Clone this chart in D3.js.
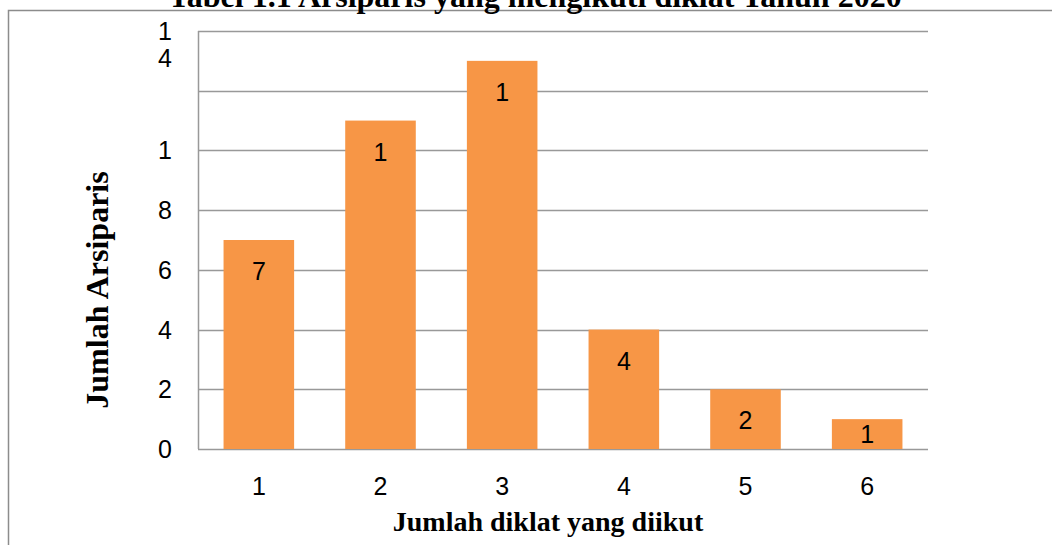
<!DOCTYPE html>
<html lang="id">
<head>
    <meta charset="UTF-8">
    <title>Arsiparis yang mengikuti diklat</title>
    <script src="https://d3js.org/d3.v7.min.js"></script>
    <style>
        body { margin: 0; background: #fff; }
        .grid line { stroke: #999; stroke-width: 1.5px; }
        .tick-label { font-family: "Liberation Sans", Arial, sans-serif; font-size: 25px; fill: #000; }
        .axis-title { font-family: "Liberation Serif", "Times New Roman", serif; font-weight: bold; fill: #000; }
    </style>
</head>
<body>
    <svg class="chart"></svg>
    <script>
        // data
        var categories = ["1", "2", "3", "4", "5", "6"];
        var values = [7, 11, 13, 4, 2, 1];
        // value labels as printed (cut to one character in the original)
        var valueLabels = ["7", "1", "1", "4", "2", "1"];
        var yTicks = [0, 2, 4, 6, 8, 10, 12, 14];
        // tick labels as printed (wrapped / cut)
        var yTickLabels = [["0"], ["2"], ["4"], ["6"], ["8"], ["1"], [], ["1", "4"]];

        var width = 1052, height = 545;
        var margin = { top: 31, right: 124, bottom: 96, left: 198 };

        var svg = d3.select('.chart')
                    .attr('width', width)
                    .attr('height', height);

        // frame (runs off the right/bottom edge)
        svg.append('rect')
           .attr('x', 8.5).attr('y', 10.5)
           .attr('width', 1100).attr('height', 600)
           .attr('fill', 'none')
           .attr('stroke', '#8c8c8c')
           .attr('stroke-width', 1.5);

        // title, mostly cut off at the top
        svg.append('text')
           .attr('class', 'axis-title')
           .attr('x', 535).attr('y', 7)
           .attr('text-anchor', 'middle')
           .style('font-size', '32px')
           .text('Tabel 1.1 Arsiparis yang mengikuti diklat Tahun 2020');

        var x = d3.scaleBand()
                  .domain(categories)
                  .range([margin.left, width - margin.right])
                  .paddingInner(0.42)
                  .paddingOuter(0.21);

        var y = d3.scaleLinear()
                  .domain([0, 14])
                  .range([height - margin.bottom, margin.top]);

        // horizontal gridlines
        svg.append('g').attr('class', 'grid')
           .selectAll('line')
           .data(yTicks)
           .join('line')
           .attr('x1', margin.left).attr('x2', width - margin.right)
           .attr('y1', d => Math.round(y(d)) + 0.5)
           .attr('y2', d => Math.round(y(d)) + 0.5);

        // left axis line
        svg.append('line')
           .attr('x1', margin.left + 0.5).attr('x2', margin.left + 0.5)
           .attr('y1', y(14)).attr('y2', y(0))
           .attr('stroke', '#999').attr('stroke-width', 1.5);

        // y tick labels
        var yl = svg.append('g')
                    .selectAll('text')
                    .data(yTicks)
                    .join('text')
                    .attr('class', 'tick-label')
                    .attr('text-anchor', 'end')
                    .attr('x', 172)
                    .attr('y', d => y(d) + 9);
        yl.each(function(d, i) {
            var t = d3.select(this);
            yTickLabels[i].forEach(function(s, j) {
                t.append('tspan').attr('x', 172).attr('dy', j === 0 ? 0 : 27).text(s);
            });
        });

        // bars
        svg.append('g')
           .selectAll('rect')
           .data(values)
           .join('rect')
           .attr('x', (d, i) => x(categories[i]))
           .attr('width', x.bandwidth())
           .attr('y', d => y(d))
           .attr('height', d => y(0) - y(d))
           .attr('fill', '#F79646');

        // value labels inside the bars
        svg.append('g')
           .selectAll('text')
           .data(values)
           .join('text')
           .attr('class', 'tick-label')
           .attr('text-anchor', 'middle')
           .attr('x', (d, i) => x(categories[i]) + x.bandwidth() / 2)
           .attr('y', d => Math.min(y(d) + 40, y(0) - 6))
           .text((d, i) => valueLabels[i]);

        // x tick labels
        svg.append('g')
           .selectAll('text')
           .data(categories)
           .join('text')
           .attr('class', 'tick-label')
           .attr('text-anchor', 'middle')
           .attr('x', d => x(d) + x.bandwidth() / 2)
           .attr('y', 495)
           .text(d => d);

        // axis titles
        svg.append('text')
           .attr('class', 'axis-title')
           .attr('text-anchor', 'middle')
           .attr('transform', 'translate(108,290) rotate(-90)')
           .style('font-size', '32px')
           .text('Jumlah Arsiparis');

        svg.append('text')
           .attr('class', 'axis-title')
           .attr('text-anchor', 'middle')
           .attr('x', 548).attr('y', 531)
           .style('font-size', '28px')
           .text('Jumlah diklat yang diikut');
    </script>
</body>
</html>
